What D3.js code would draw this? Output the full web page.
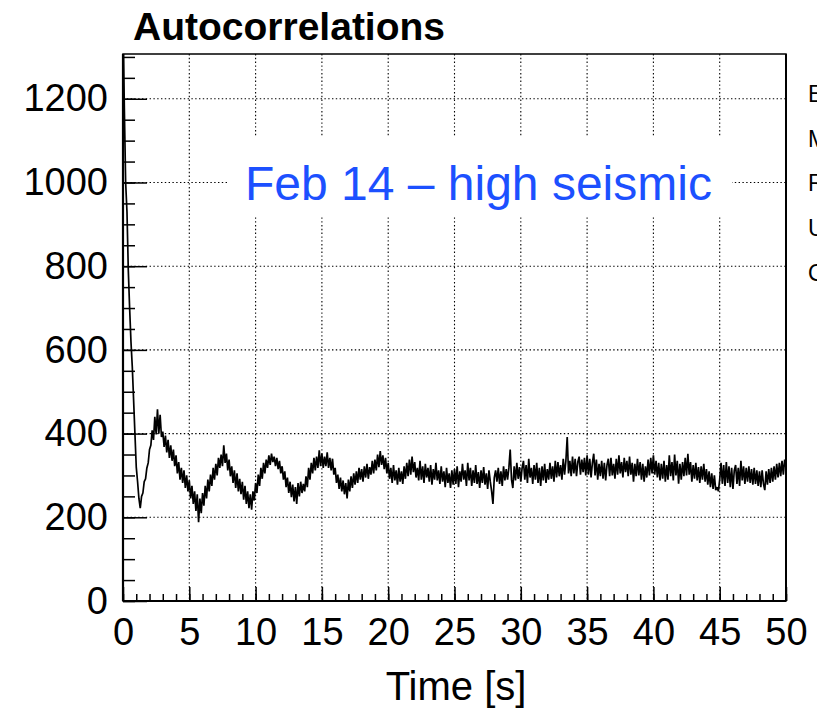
<!DOCTYPE html>
<html>
<head>
<meta charset="utf-8">
<script src="https://cdn.jsdelivr.net/npm/d3@7"></script>
<style>
  html, body { margin: 0; padding: 0; background: #fff; }
  svg { display: block; font-family: "Liberation Sans", Arial, Helvetica, sans-serif; }
</style>
</head>
<body>
<svg id="chart" width="822" height="712"></svg>
<script>
// Autocorrelation histogram, 0.1 s bins from 0 to 50 s
const binWidth = 0.1;
const autocorr = [
  // 0 - 1 s
  1400, 1180, 1000, 930, 790, 700, 620, 560, 480, 400,
  // 1 - 2 s
  320, 285, 245, 222, 250, 258, 285, 292, 318, 330,
  // 2 - 3 s
  362, 372, 408, 385, 440, 398, 458, 400, 445, 392,
  // 3 - 4 s
  405, 368, 395, 355, 385, 342, 372, 335, 362, 322,
  // 4 - 5 s
  348, 305, 332, 290, 318, 282, 312, 270, 300, 262,
  // 5 - 6 s
  288, 245, 275, 232, 262, 215, 255, 188, 245, 210,
  // 6 - 7 s
  258, 228, 275, 245, 290, 262, 302, 275, 318, 290,
  // 7 - 8 s
  328, 300, 342, 318, 350, 322, 372, 330, 352, 312,
  // 8 - 9 s
  338, 298, 322, 282, 312, 270, 305, 262, 292, 255,
  // 9 - 10 s
  285, 242, 275, 232, 262, 222, 255, 218, 262, 240,
  // 10 - 11 s
  282, 258, 302, 275, 318, 292, 330, 305, 338, 318,
  // 11 - 12 s
  348, 325, 352, 332, 345, 322, 342, 315, 335, 305,
  // 12 - 13 s
  322, 290, 310, 272, 295, 258, 285, 248, 278, 238,
  // 13 - 14 s
  272, 232, 282, 250, 285, 258, 280, 262, 298, 272,
  // 14 - 15 s
  318, 290, 330, 305, 342, 312, 345, 318, 360, 322,
  // 15 - 16 s
  352, 318, 345, 322, 355, 318, 342, 312, 340, 302,
  // 16 - 17 s
  318, 282, 302, 268, 295, 262, 288, 255, 282, 245,
  // 17 - 18 s
  290, 262, 298, 270, 305, 278, 310, 282, 318, 290,
  // 18 - 19 s
  315, 285, 322, 295, 328, 292, 320, 302, 335, 305,
  // 19 - 20 s
  338, 312, 350, 320, 358, 325, 348, 315, 342, 305,
  // 20 - 21 s
  330, 292, 318, 282, 325, 288, 312, 278, 318, 285,
  // 21 - 22 s
  310, 280, 322, 292, 330, 298, 338, 302, 345, 308,
  // 22 - 23 s
  332, 295, 318, 288, 335, 290, 322, 282, 328, 295,
  // 23 - 24 s
  318, 285, 325, 278, 315, 290, 330, 288, 312, 280,
  // 24 - 25 s
  322, 285, 310, 272, 318, 282, 305, 270, 312, 278,
  // 25 - 26 s
  315, 280, 322, 272, 310, 285, 328, 290, 312, 275,
  // 26 - 27 s
  330, 288, 318, 275, 312, 282, 325, 280, 308, 270,
  // 27 - 28 s
  312, 282, 320, 278, 305, 268, 312, 285, 262, 232,
  // 28 - 29 s
  295, 312, 285, 318, 280, 310, 275, 322, 288, 315,
  // 29 - 30 s
  290, 318, 362, 290, 270, 322, 288, 330, 292, 320,
  // 30 - 31 s
  285, 318, 335, 290, 325, 282, 340, 295, 318, 280,
  // 31 - 32 s
  325, 290, 330, 282, 318, 275, 322, 288, 328, 282,
  // 32 - 33 s
  315, 290, 330, 292, 322, 285, 335, 295, 332, 298,
  // 33 - 34 s
  325, 290, 340, 302, 335, 392, 305, 335, 298, 345,
  // 34 - 35 s
  305, 340, 298, 332, 345, 302, 338, 308, 342, 300,
  // 35 - 36 s
  348, 302, 340, 295, 330, 352, 300, 338, 290, 328,
  // 36 - 37 s
  298, 335, 292, 330, 288, 325, 340, 298, 342, 300,
  // 37 - 38 s
  328, 292, 340, 302, 348, 305, 332, 295, 342, 308,
  // 38 - 39 s
  335, 298, 345, 302, 330, 285, 328, 298, 340, 300,
  // 39 - 40 s
  332, 290, 328, 285, 322, 295, 338, 300, 342, 305,
  // 40 - 41 s
  348, 302, 335, 295, 330, 288, 328, 292, 335, 285,
  // 41 - 42 s
  325, 290, 348, 298, 332, 288, 350, 300, 335, 280,
  // 42 - 43 s
  328, 290, 332, 298, 342, 300, 352, 302, 332, 285,
  // 43 - 44 s
  325, 292, 330, 288, 320, 282, 322, 290, 328, 285,
  // 44 - 45 s
  315, 278, 310, 272, 305, 268, 300, 265, 272, 262,
  // 45 - 46 s
  290, 330, 280, 325, 275, 332, 282, 322, 272, 318,
  // 46 - 47 s
  268, 312, 325, 280, 318, 275, 335, 288, 322, 280,
  // 47 - 48 s
  318, 285, 322, 282, 315, 278, 318, 280, 312, 275,
  // 48 - 49 s
  310, 272, 312, 280, 265, 310, 278, 315, 282, 318,
  // 49 - 50 s
  285, 322, 290, 328, 295, 330, 298, 335, 302, 338,
  // 50 s
  318
];

const xMajorTicks = [0, 5, 10, 15, 20, 25, 30, 35, 40, 45, 50];
const yMajorTicks = [0, 200, 400, 600, 800, 1000, 1200];
const statsLabels = ["Entries", "Mean", "RMS", "Underflow", "Overflow"];

const titleText = "Autocorrelations";
const xTitle = "Time [s]";
const noteText = "Feb 14 \u2013 high seismic";

const frame = { left: 123, right: 786, top: 54, bottom: 601 };
const svg = d3.select("#chart");

const x = d3.scaleLinear().domain([0, 50]).range([frame.left, frame.right]);
const y = d3.scaleLinear().domain([0, 1307]).range([frame.bottom, frame.top]);

const xMinor = d3.range(0, 50.001, 1);
const yMinor = d3.range(0, 1300.001, 50);

// dotted grid at major ticks
const grid = svg.append("g").attr("stroke", "#000").attr("stroke-width", 1.1)
  .attr("stroke-dasharray", "1.4,2.4");
grid.selectAll("line.gx").data(xMajorTicks.filter(d => d > 0 && d < 50)).join("line")
  .attr("x1", d => x(d)).attr("x2", d => x(d))
  .attr("y1", frame.top).attr("y2", frame.bottom);
grid.selectAll("line.gy").data(yMajorTicks.filter(d => d > 0)).join("line")
  .attr("y1", d => y(d)).attr("y2", d => y(d))
  .attr("x1", frame.left).attr("x2", frame.right);

// white label box over the grid
svg.append("rect").attr("x", 228).attr("y", 137).attr("width", 504).attr("height", 80)
  .attr("fill", "#fff");
svg.append("text").attr("x", 245).attr("y", 200)
  .attr("font-size", 48).attr("fill", "#1c50ff").text(noteText);

// data curve, clipped to the frame
svg.append("clipPath").attr("id", "plotClip").append("rect")
  .attr("x", frame.left).attr("y", frame.top)
  .attr("width", frame.right - frame.left).attr("height", frame.bottom - frame.top);

const line = d3.line()
  .x((d, i) => x(i * binWidth))
  .y(d => y(d));
svg.append("path").datum(autocorr)
  .attr("clip-path", "url(#plotClip)")
  .attr("fill", "none").attr("stroke", "#000").attr("stroke-width", 1.7)
  .attr("stroke-linejoin", "bevel")
  .attr("d", line);

// frame
svg.append("rect").attr("x", frame.left).attr("y", frame.top)
  .attr("width", frame.right - frame.left).attr("height", frame.bottom - frame.top)
  .attr("fill", "none").attr("stroke", "#000").attr("stroke-width", 1.5);

// axes
const xAxisMinor = d3.axisBottom(x).tickValues(xMinor).tickSize(-7).tickFormat("");
const xAxis = d3.axisBottom(x).tickValues(xMajorTicks).tickSize(-14).tickPadding(17)
  .tickFormat(d3.format("d"));
const yAxisMinor = d3.axisLeft(y).tickValues(yMinor).tickSize(-12).tickFormat("");
const yAxis = d3.axisLeft(y).tickValues(yMajorTicks).tickSize(-24).tickPadding(15)
  .tickFormat(d3.format("d"));

function styleAxis(g) {
  g.select(".domain").remove();
  g.selectAll(".tick line").attr("stroke", "#000").attr("stroke-width", 1.5);
  g.selectAll("text").attr("fill", "#000").attr("font-size", 38)
    .attr("font-family", "'Liberation Sans', Arial, sans-serif");
}

svg.append("g").attr("transform", `translate(0,${frame.bottom})`).call(xAxisMinor).call(styleAxis);
svg.append("g").attr("transform", `translate(0,${frame.bottom})`).call(xAxis).call(styleAxis);
svg.append("g").attr("transform", `translate(${frame.left},0)`).call(yAxisMinor).call(styleAxis);
svg.append("g").attr("transform", `translate(${frame.left},0)`).call(yAxis).call(styleAxis);

// heavier axis lines on left and bottom
svg.append("line").attr("x1", frame.left).attr("x2", frame.left)
  .attr("y1", frame.top).attr("y2", frame.bottom).attr("stroke", "#000").attr("stroke-width", 2.2);
svg.append("line").attr("x1", frame.left).attr("x2", frame.right)
  .attr("y1", frame.bottom).attr("y2", frame.bottom).attr("stroke", "#000").attr("stroke-width", 2.2);
svg.append("line").attr("x1", frame.right).attr("x2", frame.right)
  .attr("y1", frame.top).attr("y2", frame.bottom).attr("stroke", "#000").attr("stroke-width", 2);

// titles
svg.append("text").attr("x", 133).attr("y", 40)
  .attr("font-size", 39).attr("font-weight", "bold").attr("fill", "#000").text(titleText);
svg.append("text").attr("x", 456).attr("y", 700).attr("text-anchor", "middle")
  .attr("font-size", 40).attr("fill", "#000").text(xTitle);

// statistics box, partly outside the view
svg.append("clipPath").attr("id", "statsClip").append("rect")
  .attr("x", 795).attr("y", 60).attr("width", 22).attr("height", 240);
svg.append("g").attr("clip-path", "url(#statsClip)")
  .selectAll("text").data(statsLabels).join("text")
  .attr("x", 808).attr("y", (d, i) => 102 + i * 44.7)
  .attr("font-size", 23).attr("fill", "#000").text(d => d);
</script>
</body>
</html>
